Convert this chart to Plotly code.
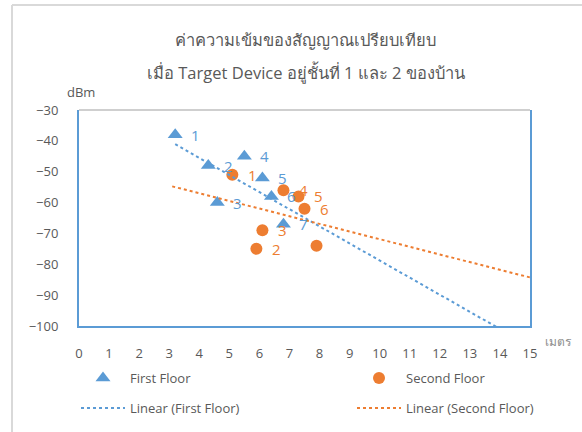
import numpy as np
import plotly.graph_objects as go

# Signal strength (dBm) versus distance (metres) for two floors
first_x = [3.2, 4.3, 4.6, 5.5, 6.1, 6.4, 6.8]
first_y = [-38, -48, -60, -45, -52, -58, -67]
first_labels = ["1", "2", "3", "4", "5", "6", "7"]

second_x = [5.1, 5.9, 6.1, 6.8, 7.3, 7.5, 7.9]
second_y = [-51, -75, -69, -56, -58, -62, -74]
second_labels = ["1", "2", "3", "4", "5", "6", ""]

# x span over which each linear trend is drawn
first_trend_span = [3.2, 15.0]
second_trend_span = [3.1, 15.0]

x_ticks = list(range(0, 16))
y_ticks = list(range(-100, -29, 10))

BLUE = "#5B9BD5"
ORANGE = "#ED7D31"
TEXT = "#595959"
FONT = "Open Sans, Noto Sans, sans-serif"

W, H = 582, 432
ML, MR, MT, MB = 79, 52, 110, 106
PW, PH = W - ML - MR, H - MT - MB


def px_x(p):
    return (p - ML) / PW


def px_y(p):
    return (H - MB - p) / PH


def trend(xs, ys, span):
    slope, intercept = np.polyfit(xs, ys, 1)
    tx = np.array(span)
    return tx, slope * tx + intercept


fig = go.Figure()

fig.add_trace(go.Scatter(
    x=first_x, y=first_y, mode="markers", name="First Floor",
    marker=dict(symbol="triangle-up", size=13, color=BLUE),
    legend="legend",
))
fig.add_trace(go.Scatter(
    x=second_x, y=second_y, mode="markers", name="Second Floor",
    marker=dict(symbol="circle", size=12, color=ORANGE),
    legend="legend2",
))

tx1, ty1 = trend(first_x, first_y, first_trend_span)
tx2, ty2 = trend(second_x, second_y, second_trend_span)
fig.add_trace(go.Scatter(
    x=tx1, y=ty1, mode="lines", name="Linear (First Floor)",
    line=dict(color=BLUE, width=2, dash="dot"), legend="legend3",
))
fig.add_trace(go.Scatter(
    x=tx2, y=ty2, mode="lines", name="Linear (Second Floor)",
    line=dict(color=ORANGE, width=2, dash="dot"), legend="legend4",
))

annotations = []
for xs, ys, labels, col in [(first_x, first_y, first_labels, BLUE),
                            (second_x, second_y, second_labels, ORANGE)]:
    for x, y, t in zip(xs, ys, labels):
        if t:
            annotations.append(dict(
                x=x, y=y, text=t, showarrow=False, xshift=20,
                xanchor="center", yanchor="middle",
                font=dict(size=15, color=col, family=FONT),
            ))


def paper_text(text, x, y, size, color=TEXT):
    return dict(xref="paper", yref="paper", x=px_x(x), y=px_y(y),
                xanchor="center", yanchor="middle", text=text,
                showarrow=False, font=dict(size=size, color=color, family=FONT))


# Title (two lines) and axis unit labels
annotations += [
    paper_text("ค่าความเข้มของสัญญาณเปรียบเทียบ", 305, 39, 16.5),
    paper_text("เมื่อ Target Device อยู่ชั้นที่ 1 และ 2 ของบ้าน", 306, 72, 16.5),
    paper_text("dBm", 81, 92, 13),
    paper_text("เมตร", 558, 341, 12, "#8C8C8C"),
]

shapes = [
    # top edge of plot frame
    dict(type="line", xref="paper", yref="paper", x0=0, x1=1, y0=1, y1=1,
         line=dict(color="#BFBFBF", width=1.5)),
    # outer chart border
    dict(type="line", xref="paper", yref="paper", x0=px_x(12), x1=px_x(12),
         y0=px_y(5), y1=px_y(440), line=dict(color="#D9D9D9", width=2)),
    dict(type="line", xref="paper", yref="paper", x0=px_x(12), x1=px_x(590),
         y0=px_y(5), y1=px_y(5), line=dict(color="#D9D9D9", width=2)),
]


def legend_box(text_left, row_y):
    # legend entry whose label starts at text_left (pixels)
    return dict(
        orientation="h", itemwidth=44,
        x=px_x(text_left - 55), y=px_y(row_y),
        xanchor="left", yanchor="middle", bgcolor="rgba(0,0,0,0)",
        font=dict(size=13, color=TEXT, family=FONT), itemclick=False,
    )


fig.update_layout(
    width=W, height=H,
    margin=dict(l=ML, r=MR, t=MT, b=MB, autoexpand=False),
    paper_bgcolor="white", plot_bgcolor="white",
    font=dict(family=FONT, color=TEXT),
    showlegend=True,
    legend=legend_box(131, 378),
    legend2=legend_box(407, 378),
    legend3=legend_box(131, 408),
    legend4=legend_box(407, 408),
    annotations=annotations,
    shapes=shapes,
    xaxis=dict(
        range=[0, 15], tickvals=x_ticks, showgrid=False, zeroline=False,
        showline=True, linecolor=BLUE, linewidth=2,
        ticks="outside", ticklen=14, tickcolor="rgba(0,0,0,0)",
        tickfont=dict(size=13, color=TEXT, family=FONT),
    ),
    yaxis=dict(
        range=[-100, -30], tickvals=y_ticks, showgrid=False, zeroline=False,
        showline=True, linecolor=BLUE, linewidth=2, mirror=True,
        ticks="outside", ticklen=16, tickcolor="rgba(0,0,0,0)",
        tickfont=dict(size=13, color=TEXT, family=FONT),
    ),
)

fig.write_html("out.html")
